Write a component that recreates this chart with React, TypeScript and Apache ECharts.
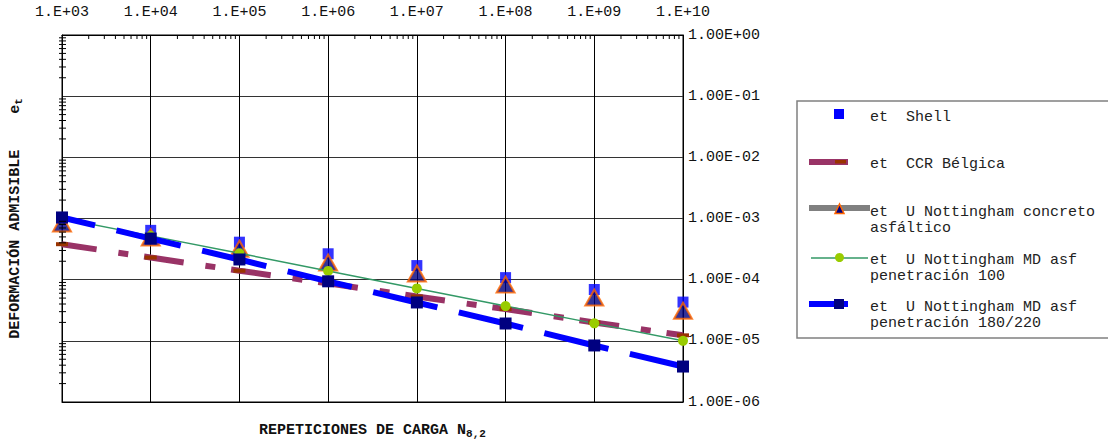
import React, { useEffect, useRef } from 'react';
import * as echarts from 'echarts';

// ---- data ----
const N = [1e3, 1e4, 1e5, 1e6, 1e7, 1e8, 1e9, 1e10];
const shell = [1.0e-3, 6.4e-4, 4.1e-4, 2.65e-4, 1.7e-4, 1.08e-4, 6.9e-5, 4.3e-5];
const belgica = [3.8e-4, 2.3e-4, 1.4e-4, 8.7e-5, 5.3e-5, 3.3e-5, 2.0e-5, 1.23e-5];
const concreto = [8.3e-4, 4.9e-4, 3.2e-4, 1.9e-4, 1.26e-4, 8.3e-5, 5.1e-5, 3.1e-5];
const md100 = [1.0e-3, 5.2e-4, 2.7e-4, 1.39e-4, 7.2e-5, 3.7e-5, 1.93e-5, 1.0e-5];
const md180 = [1.04e-3, 4.7e-4, 2.14e-4, 9.4e-5, 4.24e-5, 1.92e-5, 8.4e-6, 3.8e-6];

const seriesNames = [
  'et  Shell',
  'et  CCR Bélgica',
  'et  U Nottingham concreto asfáltico',
  'et  U Nottingham MD asf penetración 100',
  'et  U Nottingham MD asf penetración 180/220',
];

// tick helpers
const MINOR = [2, 3, 4, 5, 6, 7, 8, 9];
const X_DECADES = [1e3, 1e4, 1e5, 1e6, 1e7, 1e8, 1e9];
const Y_DECADES = [1e-6, 1e-5, 1e-4, 1e-3, 1e-2, 1e-1];

const FONT = '"Liberation Mono", "Courier New", monospace';

export default function App() {
  const ref = useRef<HTMLDivElement>(null);

  useEffect(() => {
    const chart = echarts.init(ref.current!, null, { renderer: 'svg' });
    const pair = (ys: number[]) => N.map((x, i) => [x, ys[i]]);
    const xMinor = X_DECADES.flatMap((d) => MINOR.map((m) => [d * m, 1]));
    const yMinor = Y_DECADES.flatMap((d) => MINOR.map((m) => [1e3, d * m]));

    const txt = (text: string, x: number, y: number) => ({
      type: 'text',
      x,
      y,
      silent: true,
      style: {
        text,
        fill: '#222',
        fontFamily: FONT,
        fontSize: 15,
        align: 'left',
        verticalAlign: 'middle',
        textAlign: 'left',
        textVerticalAlign: 'middle',
      },
    });

    const titleStyle = {
      fontFamily: FONT,
      fontSize: 15,
      fontWeight: 'bold',
      color: '#111',
      rich: {
        sub: {
          fontFamily: FONT,
          fontSize: 11,
          fontWeight: 'bold',
          color: '#111',
          padding: [6, 0, 0, 0],
        },
      },
    };

    const option: any = {
      animation: false,
      backgroundColor: '#fff',
      grid: {
        left: 62,
        right: 425,
        top: 35,
        bottom: 39,
        show: true,
        borderColor: '#000',
        borderWidth: 1,
        backgroundColor: '#fff',
        containLabel: false,
        outerBoundsMode: 'none',
      },
      xAxis: [
        {
          type: 'log',
          logBase: 10,
          min: 1e3,
          max: 1e10,
          position: 'top',
          axisLine: { show: true, lineStyle: { color: '#000', width: 1 } },
          axisTick: { show: false },
          axisLabel: {
            formatter: (v: number) =>
              '1.E+' + String(Math.round(Math.log10(v))).padStart(2, '0'),
            fontFamily: FONT,
            fontSize: 15,
            color: '#111',
            margin: 15,
          },
          splitLine: { show: true, lineStyle: { color: '#000', width: 1 } },
        },
        {
          type: 'log',
          logBase: 10,
          min: 1e3,
          max: 1e10,
          position: 'bottom',
          axisLine: { show: true, lineStyle: { color: '#000', width: 1 } },
          axisTick: { show: false },
          axisLabel: { show: false },
          splitLine: { show: false },
          name: 'REPETICIONES DE CARGA N{sub|8,2}',
          nameLocation: 'middle',
          nameGap: 20,
          nameTextStyle: titleStyle,
        },
      ],
      yAxis: [
        {
          type: 'log',
          logBase: 10,
          min: 1e-6,
          max: 1,
          position: 'right',
          axisLine: { show: true, lineStyle: { color: '#000', width: 1 } },
          axisTick: { show: false },
          axisLabel: {
            formatter: (v: number) => {
              const e = Math.round(Math.log10(v));
              return '1.00E' + (e < 0 ? '-' : '+') + String(Math.abs(e)).padStart(2, '0');
            },
            fontFamily: FONT,
            fontSize: 15,
            color: '#111',
            margin: 5,
          },
          splitLine: { show: true, lineStyle: { color: '#333', width: 1 } },
        },
        {
          type: 'log',
          logBase: 10,
          min: 1e-6,
          max: 1,
          position: 'left',
          axisLine: { show: true, lineStyle: { color: '#000', width: 1 } },
          axisTick: { show: false },
          axisLabel: { show: false },
          splitLine: { show: false },
          name: 'DEFORMACIÓN ADMISIBLE    e{sub|t}',
          nameLocation: 'middle',
          nameRotate: 90,
          nameGap: 38,
          nameTextStyle: titleStyle,
        },
      ],
      series: [
        {
          type: 'custom',
          xAxisIndex: 0,
          yAxisIndex: 0,
          silent: true,
          clip: false,
          z: 5,
          data: xMinor,
          renderItem: (_p: any, api: any) => {
            const p = api.coord([api.value(0), api.value(1)]);
            return {
              type: 'line',
              shape: { x1: p[0], y1: p[1], x2: p[0], y2: p[1] + 4 },
              style: { stroke: '#000', lineWidth: 1 },
            };
          },
        },
        {
          type: 'custom',
          xAxisIndex: 0,
          yAxisIndex: 0,
          silent: true,
          clip: false,
          z: 5,
          data: yMinor,
          renderItem: (_p: any, api: any) => {
            const p = api.coord([api.value(0), api.value(1)]);
            return {
              type: 'line',
              shape: { x1: p[0] - 3, y1: p[1], x2: p[0] + 4, y2: p[1] },
              style: { stroke: '#000', lineWidth: 1 },
            };
          },
        },
        {
          name: seriesNames[0],
          type: 'scatter',
          data: pair(shell),
          symbol: 'rect',
          symbolSize: 11,
          itemStyle: { color: '#0000ff' },
        },
        {
          name: seriesNames[1],
          type: 'line',
          data: pair(belgica),
          symbol: 'rect',
          symbolSize: [12, 4],
          showAllSymbol: true,
          itemStyle: { color: '#993300' },
          lineStyle: { color: '#993366', width: 6, type: [40, 22, 10, 16], dashOffset: 5 },
        },
        {
          name: seriesNames[2],
          type: 'scatter',
          data: pair(concreto),
          symbol: 'triangle',
          symbolSize: [18, 16],
          itemStyle: { color: '#000080', borderColor: '#ff6600', borderWidth: 2 },
        },
        {
          name: seriesNames[3],
          type: 'line',
          data: pair(md100),
          symbol: 'circle',
          symbolSize: 10,
          showAllSymbol: true,
          itemStyle: { color: '#99cc00' },
          lineStyle: { color: '#339966', width: 1.5 },
        },
        {
          name: seriesNames[4],
          type: 'line',
          data: pair(md180),
          symbol: 'rect',
          symbolSize: 12,
          showAllSymbol: true,
          itemStyle: { color: '#000080' },
          lineStyle: { color: '#0000ff', width: 6, type: [66, 22], dashOffset: 32 },
        },
      ],
      graphic: {
        elements: [
          {
            type: 'rect',
            silent: true,
            shape: { x: 797, y: 101, width: 330, height: 237 },
            style: { fill: '#fff', stroke: '#808080', lineWidth: 1.5 },
          },
          // Shell
          {
            type: 'rect',
            silent: true,
            shape: { x: 834, y: 109, width: 10, height: 10 },
            style: { fill: '#0000ff' },
          },
          txt('et  Shell', 870, 117),
          // CCR Bélgica
          {
            type: 'line',
            silent: true,
            shape: { x1: 809, y1: 162, x2: 848, y2: 162 },
            style: { stroke: '#993366', lineWidth: 6 },
          },
          {
            type: 'rect',
            silent: true,
            shape: { x: 835, y: 160, width: 11, height: 3.5 },
            style: { fill: '#993300' },
          },
          txt('et  CCR Bélgica', 870, 164),
          // concreto asfáltico
          {
            type: 'line',
            silent: true,
            shape: { x1: 809, y1: 208, x2: 870, y2: 208 },
            style: { stroke: '#808080', lineWidth: 6 },
          },
          {
            type: 'polygon',
            silent: true,
            shape: { points: [[835, 213.5], [844, 213.5], [839.5, 204]] },
            style: { fill: '#000080', stroke: '#ff6600', lineWidth: 1.5 },
          },
          txt('et  U Nottingham concreto', 870, 212),
          txt('asfáltico', 870, 228),
          // MD 100
          {
            type: 'line',
            silent: true,
            shape: { x1: 811, y1: 258, x2: 868, y2: 258 },
            style: { stroke: '#339966', lineWidth: 1.5 },
          },
          {
            type: 'circle',
            silent: true,
            shape: { cx: 839.5, cy: 257.5, r: 4.5 },
            style: { fill: '#99cc00' },
          },
          txt('et  U Nottingham MD asf', 870, 260),
          txt('penetración 100', 870, 276),
          // MD 180/220
          {
            type: 'line',
            silent: true,
            shape: { x1: 809, y1: 304, x2: 848, y2: 304 },
            style: { stroke: '#0000ff', lineWidth: 6 },
          },
          {
            type: 'rect',
            silent: true,
            shape: { x: 834, y: 299, width: 10, height: 10 },
            style: { fill: '#000080' },
          },
          txt('et  U Nottingham MD asf', 870, 307),
          txt('penetración 180/220', 870, 323),
        ],
      },
    };

    chart.setOption(option);
    return () => chart.dispose();
  }, []);

  return (
    <div
      ref={ref}
      style={{ position: 'fixed', left: 0, top: 0, width: 1108, height: 441, background: '#fff' }}
    />
  );
}
